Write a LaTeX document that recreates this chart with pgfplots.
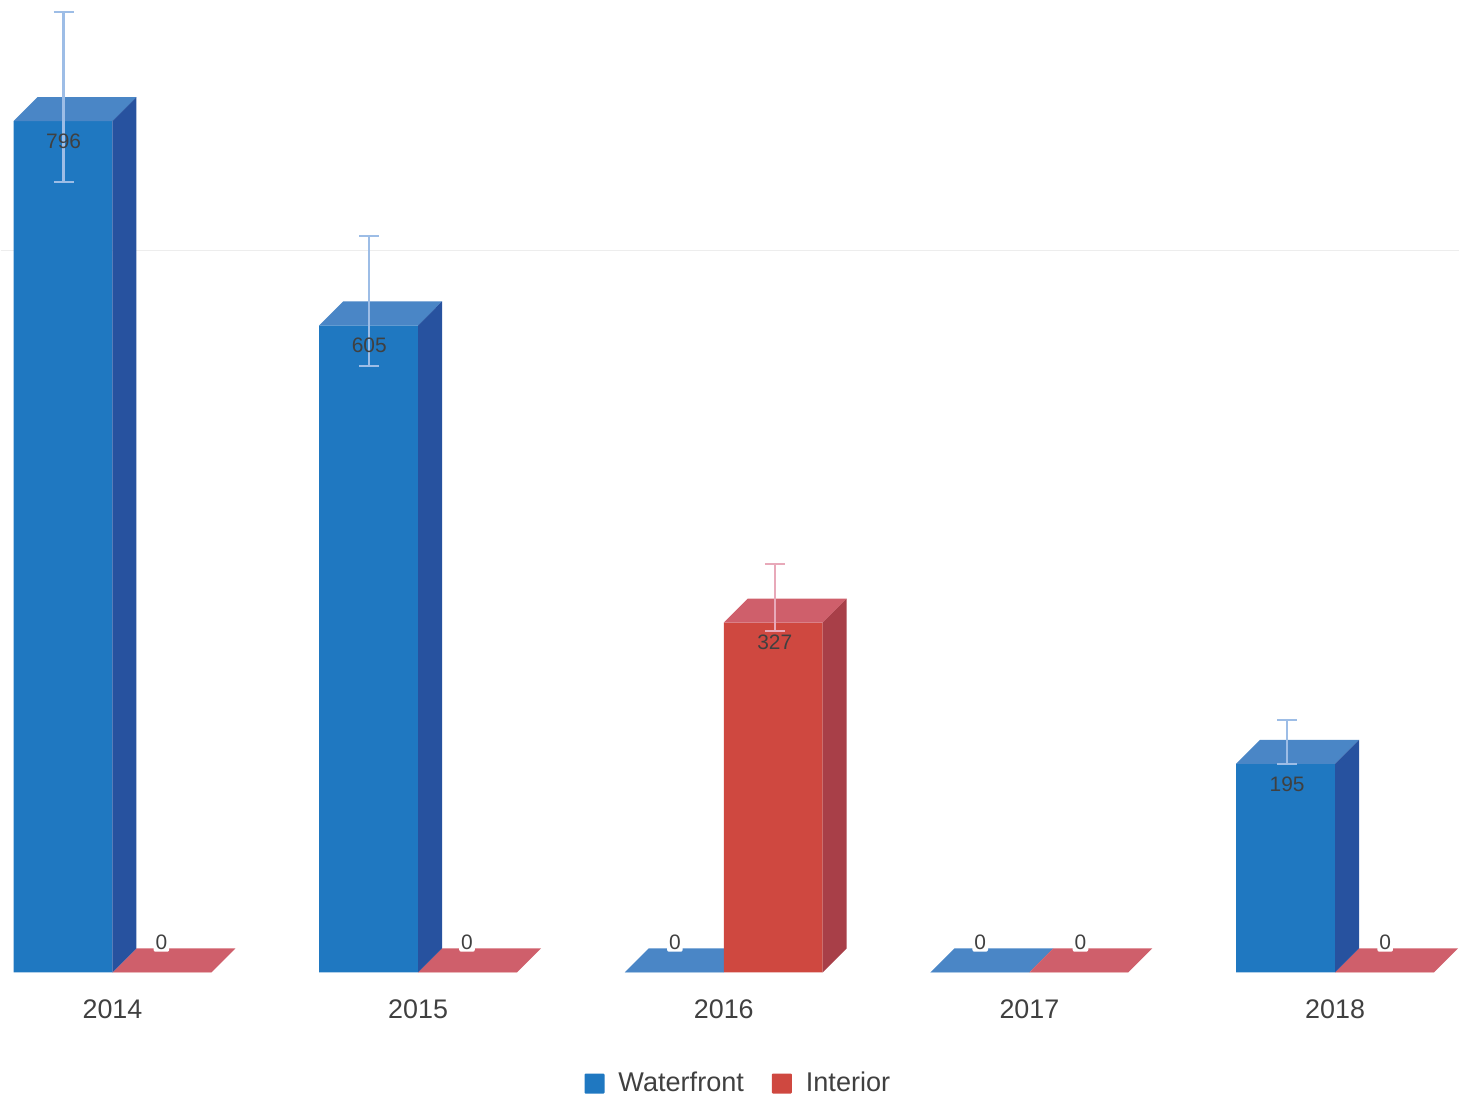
\documentclass[border=0pt]{standalone}
\usepackage{fontspec}
\setmainfont{Liberation Sans}
\usepackage{pgfplots}
\pgfplotsset{compat=1.18}
\definecolor{bfront}{HTML}{1F78C1}
\definecolor{btop}{HTML}{4A86C6}
\definecolor{bside}{HTML}{27529F}
\definecolor{rfront}{HTML}{CF4840}
\definecolor{rtop}{HTML}{CF5F6B}
\definecolor{rside}{HTML}{A83F48}
\definecolor{berr}{HTML}{9DBDE6}
\definecolor{rerr}{HTML}{E8A9B9}
\definecolor{txt}{HTML}{404040}
\begin{document}
\begin{tikzpicture}
\begin{axis}[
  scale only axis, width=729.5bp, height=551bp,
  xmin=-0.3680, xmax=4.4039, ymin=-120.9, ymax=909.3,
  axis y line=none, axis x line=middle,
  axis line style={draw=none},
  major tick length=0pt,
  xtick={0,1,2,3,4}, xticklabels={2014,2015,2016,2017,2018},
  xticklabel style={font=\fontsize{13.5}{15}\selectfont, text=txt, yshift=-10.2bp},
  /pgf/number format/assume math mode=true,
  legend style={at={(axis cs:2.051,-104)}, anchor=center, draw=none, fill=none,
    legend columns=2, font=\fontsize{13.6}{15}\selectfont, text=txt,
    /tikz/every even column/.append style={column sep=12bp}},
  legend image code/.code={\fill[#1, rounded corners=0.5bp] (0bp,-5bp) rectangle (10bp,5bp);\path (15bp,0bp);},
  clip=false,
]
\path (rel axis cs:0,0) rectangle (rel axis cs:1,1);
% faint grid line
\addplot[draw=black!7, line width=0.5pt, forget plot] coordinates {(-0.3663,675.4)(4.4039,675.4)};
% flat (zero) bars
\addplot[fill=rtop, draw=none, forget plot] coordinates {(0,0)(0.3238,0)(0.4023,22.45)(0.0785,22.45)};
\addplot[fill=rtop, draw=none, forget plot] coordinates {(1,0)(1.3238,0)(1.4023,22.45)(1.0785,22.45)};
\addplot[fill=btop, draw=none, forget plot] coordinates {(1.6762,0)(2,0)(2.0785,22.45)(1.7547,22.45)};
\addplot[fill=btop, draw=none, forget plot] coordinates {(2.6762,0)(3,0)(3.0785,22.45)(2.7547,22.45)};
\addplot[fill=rtop, draw=none, forget plot] coordinates {(3,0)(3.3238,0)(3.4023,22.45)(3.0785,22.45)};
\addplot[fill=rtop, draw=none, forget plot] coordinates {(4,0)(4.3238,0)(4.4023,22.45)(4.0785,22.45)};
% front faces
\addplot[ybar, bar width=49.5bp, bar shift=-24.75bp, fill=bfront, draw=none]
  coordinates {(0,796)(1,605)(2,0)(3,0)(4,195)};
\addplot[ybar, bar width=49.5bp, bar shift=24.75bp, fill=rfront, draw=none]
  coordinates {(0,0)(1,0)(2,327)(3,0)(4,0)};
\legend{Waterfront,Interior}
% top faces
\addplot[fill=btop, draw=none, forget plot] coordinates {(-0.3238,796)(0,796)(0.0785,818.45)(-0.2453,818.45)};
\addplot[fill=btop, draw=none, forget plot] coordinates {(0.6762,605)(1,605)(1.0785,627.45)(0.7547,627.45)};
\addplot[fill=btop, draw=none, forget plot] coordinates {(3.6762,195)(4,195)(4.0785,217.45)(3.7547,217.45)};
\addplot[fill=rtop, draw=none, forget plot] coordinates {(2,327)(2.3238,327)(2.4023,349.45)(2.0785,349.45)};
% side faces
\addplot[fill=bside, draw=none, forget plot] coordinates {(0,0)(0.0785,22.45)(0.0785,818.45)(0,796)};
\addplot[fill=bside, draw=none, forget plot] coordinates {(1,0)(1.0785,22.45)(1.0785,627.45)(1,605)};
\addplot[fill=bside, draw=none, forget plot] coordinates {(4,0)(4.0785,22.45)(4.0785,217.45)(4,195)};
\addplot[fill=rside, draw=none, forget plot] coordinates {(2.3238,0)(2.4023,22.45)(2.4023,349.45)(2.3238,327)};
% error bars
\addplot[draw=none, mark=none, forget plot,
  error bars/.cd, y dir=both, y explicit,
  error bar style={draw=berr, line width=1.2pt},
  error mark options={draw=berr, mark size=5bp, rotate=90, line width=1.2pt}]
  table[x=x, y=y, y error plus=p, y error minus=m] {
x y p m
-0.160 796 102 57
0.840 605 83.5 38
3.843 195 41 0
};
\addplot[draw=none, mark=none, forget plot,
  error bars/.cd, y dir=both, y explicit,
  error bar style={draw=rerr, line width=1.2pt},
  error mark options={draw=rerr, mark size=5bp, rotate=90, line width=1.2pt}]
  table[x=x, y=y, y error plus=p, y error minus=m] {
x y p m
2.167 327 54.7 8
};
% value labels
\addplot[draw=none, mark=none, forget plot, point meta=y, nodes near coords,
  nodes near coords style={anchor=center, yshift=-10bp, text=txt, font=\fontsize{10.5}{12}\selectfont, inner sep=0pt}]
  coordinates {(-0.160,796)(0.840,605)(2.167,327)(3.843,195)};
\addplot[draw=none, mark=none, forget plot, point meta=y, nodes near coords,
  nodes near coords style={anchor=center, yshift=15bp, text=txt, font=\fontsize{10.5}{12}\selectfont, inner sep=1pt, fill=white, rounded corners=1pt}]
  coordinates {(0.160,0)(1.160,0)(1.840,0)(2.839,0)(3.167,0)(4.164,0)};
\end{axis}
\end{tikzpicture}
\end{document}
